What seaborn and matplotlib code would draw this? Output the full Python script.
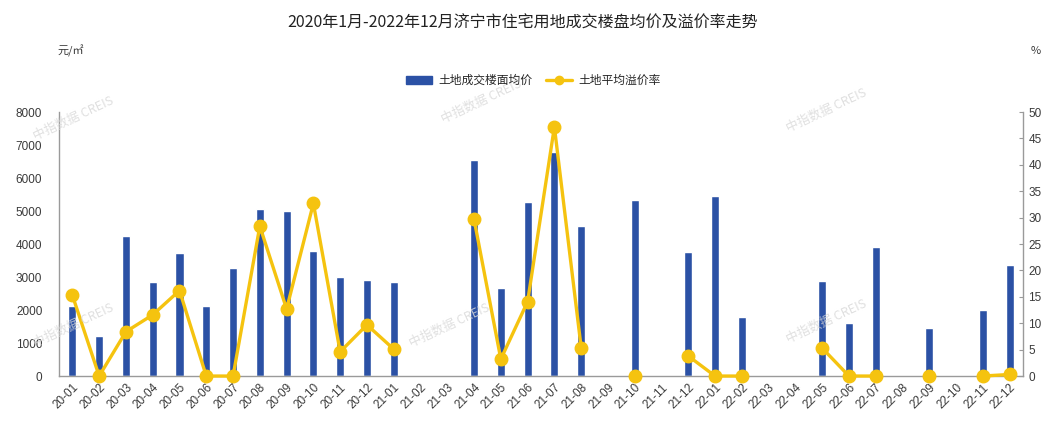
import matplotlib
matplotlib.use("Agg")
import matplotlib.pyplot as plt
import numpy as np
import pandas as pd
import seaborn as sns
from matplotlib.lines import Line2D
from matplotlib.patches import Patch

months = ["20-01", "20-02", "20-03", "20-04", "20-05", "20-06", "20-07", "20-08", "20-09", "20-10", "20-11", "20-12",
          "21-01", "21-02", "21-03", "21-04", "21-05", "21-06", "21-07", "21-08", "21-09", "21-10", "21-11", "21-12",
          "22-01", "22-02", "22-03", "22-04", "22-05", "22-06", "22-07", "22-08", "22-09", "22-10", "22-11", "22-12"]

# 土地成交楼面均价 (元/㎡), NaN = no deal that month
floor_price = [2130, 1200, 4230, 2850, 3730, 2130, 3270, 5070, 5010, 3800, 2990, 2920,
               2860, np.nan, np.nan, 6540, 2660, 5280, 6790, 4540, np.nan, 5350, np.nan, 3770,
               5450, 1800, np.nan, np.nan, 2890, 1600, 3900, np.nan, 1470, np.nan, 2000, 3370]

# 土地平均溢价率 (%)
premium = [15.3, 0, 8.4, 11.6, 16.2, 0, 0, 28.4, 12.7, 32.7, 4.6, 9.7,
           5.1, np.nan, np.nan, 29.7, 3.2, 14.1, 47.2, 5.4, np.nan, 0, np.nan, 3.8,
           0, 0, np.nan, np.nan, 5.3, 0, 0, np.nan, 0, np.nan, 0, 0.3]

bar_name = "土地成交楼面均价"
line_name = "土地平均溢价率"
title = "2020年1月-2022年12月济宁市住宅用地成交楼盘均价及溢价率走势"

sns.set_style("white")
plt.rcParams['font.family'] = ['Noto Sans CJK SC', 'DejaVu Sans']

blue = "#2b51a5"
gold = "#f5c30f"
grey = "#9a9a9a"
txt = "#3a3a3a"

df = pd.DataFrame({"month": months, "price": floor_price, "premium": premium})

fig = plt.figure(figsize=(10.46, 4.23), dpi=100)
ax = fig.add_axes([0.0564, 0.111, 0.9216, 0.624])

sns.barplot(data=df, x="month", y="price", color=blue, width=0.3, saturation=1, ax=ax)
ax.set_ylim(0, 8000)
ax.set_xlim(-0.5, len(months) - 0.5)
ax.set_yticks(range(0, 8001, 1000))
ax.set_xlabel("")
ax.set_ylabel("")

ax2 = ax.twinx()
ax2.plot(np.arange(len(months)), df["premium"], color=gold, lw=2.4, marker="o",
         markersize=9, markerfacecolor=gold, markeredgecolor=gold, clip_on=False, zorder=5)
ax2.set_ylim(0, 50)
ax2.set_yticks(range(0, 51, 5))

for a in (ax, ax2):
    for s in a.spines.values():
        s.set_visible(False)
ax.spines["left"].set_visible(True)
ax.spines["bottom"].set_visible(True)
ax2.spines["right"].set_visible(True)
for s in (ax.spines["left"], ax.spines["bottom"], ax2.spines["right"]):
    s.set_color(grey)
    s.set_linewidth(1)

ax.tick_params(axis="y", length=0, labelsize=8.5, labelcolor=txt, pad=12)
ax2.tick_params(axis="y", length=3, direction="in", color=grey, labelsize=8.5, labelcolor=txt, pad=4)
ax.set_xticks(np.arange(len(months)))
ax.set_xticklabels(months, rotation=45, ha="right", rotation_mode="anchor",
                   fontsize=8.5, color=txt, family=['Liberation Sans', 'DejaVu Sans'])
ax.tick_params(axis="x", which="major", length=0, pad=4)
ax.set_xticks(np.arange(-0.5, len(months), 1), minor=True)
ax.tick_params(axis="x", which="minor", length=3, direction="in", color=grey)
for lab in ax.get_yticklabels() + ax2.get_yticklabels():
    lab.set_family(['Liberation Sans', 'DejaVu Sans'])

fig.text(0.5, 0.945, title, ha="center", va="center", fontsize=11.5, color="#222222")
fig.text(0.068, 0.88, "元/㎡", ha="center", va="center", fontsize=8, color=txt)
fig.text(0.99, 0.88, "%", ha="center", va="center", fontsize=8, color=txt)

handles = [Patch(facecolor=blue, edgecolor=blue),
           Line2D([0], [0], color=gold, lw=2.4, marker="o", markersize=6)]
fig.legend(handles, [bar_name, line_name], loc="center", bbox_to_anchor=(0.51, 0.81),
           ncol=2, frameon=False, fontsize=8.5, handlelength=2.2, columnspacing=1.2,
           handletextpad=0.5)

# faint watermarks
for wx, wy in [(0.07, 0.72), (0.46, 0.76), (0.79, 0.74), (0.07, 0.23), (0.43, 0.23), (0.79, 0.24)]:
    fig.text(wx, wy, "中指数据 CREIS", fontsize=9, color="#d8d8d8", rotation=25,
             ha="center", va="center", alpha=0.8, zorder=0)

fig.savefig("out.png", dpi=100)
